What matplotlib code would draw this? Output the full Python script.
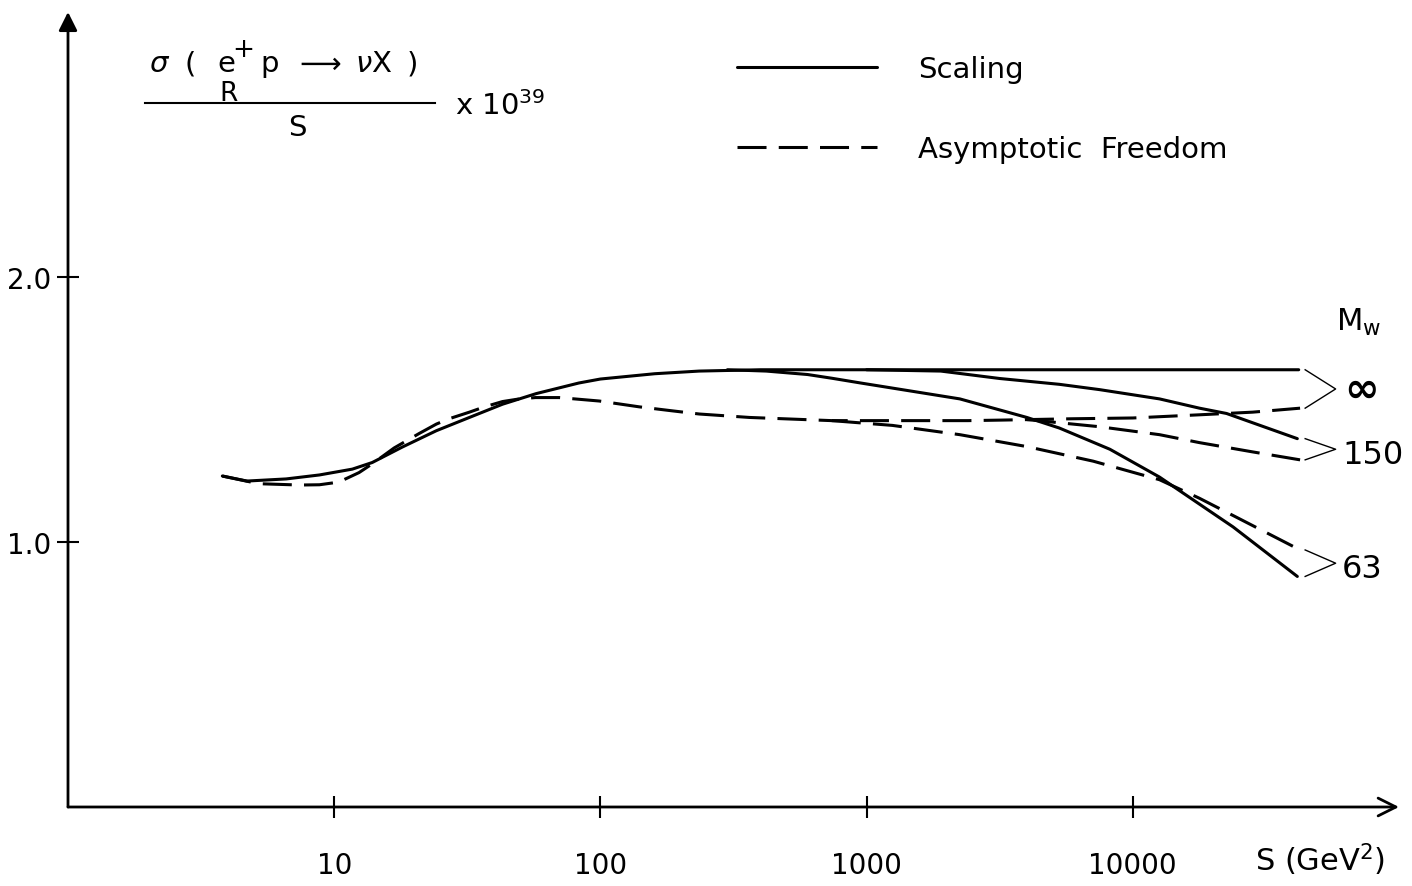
import matplotlib
matplotlib.use("Agg")
import matplotlib.pyplot as plt
from matplotlib.lines import Line2D
from matplotlib.ticker import NullLocator

# --------------------------------------------------------------------------- #
# Values: S in GeV^2, sigma/S in units of 1e-39
# --------------------------------------------------------------------------- #
S_SCAL_INF = [3.8, 4.7, 6.6, 8.8, 11.7, 13.9, 18, 24.2, 32.2, 42.9, 57.4, 83,
              100, 160, 235, 400, 1000, 3200, 10000, 42000]
SCAL_INF   = [1.249, 1.23, 1.238, 1.253, 1.275, 1.30, 1.358, 1.42, 1.47, 1.52,
              1.56, 1.60, 1.615, 1.635, 1.645, 1.65, 1.65, 1.65, 1.65, 1.65]

S_SCAL_150 = [1000, 1900, 3160, 5300, 7500, 12600, 17800, 22500, 41500]
SCAL_150   = [1.65, 1.645, 1.617, 1.595, 1.575, 1.54, 1.505, 1.485, 1.39]

S_SCAL_63 = [300, 420, 600, 740, 950, 2240, 4000, 5300, 8200, 12600, 23800, 41500]
SCAL_63   = [1.65, 1.645, 1.632, 1.618, 1.60, 1.54, 1.47, 1.43, 1.35, 1.245,
             1.057, 0.87]

S_AF_INF = [3.8, 5.2, 7.4, 8.8, 10.4, 12.4, 13.9, 16.8, 20.9, 24.2, 27, 32.2,
            36.7, 42.9, 49.6, 57, 70, 99, 140, 186, 235, 363, 740, 1000, 2400,
            3200, 5900, 10000, 17800, 28200, 42500]
AF_INF   = [1.249, 1.22, 1.215, 1.216, 1.226, 1.262, 1.295, 1.355, 1.41, 1.445,
            1.465, 1.49, 1.51, 1.53, 1.54, 1.545, 1.545, 1.532, 1.51, 1.495,
            1.483, 1.47, 1.458, 1.458, 1.458, 1.46, 1.465, 1.468, 1.48, 1.49,
            1.505]

S_AF_150 = [4000, 5300, 7500, 12600, 17800, 28200, 42500]
AF_150   = [1.462, 1.45, 1.435, 1.405, 1.375, 1.34, 1.31]

S_AF_63 = [740, 1250, 2240, 4000, 7100, 12600, 17800, 23800, 42500]
AF_63   = [1.458, 1.44, 1.405, 1.36, 1.305, 1.235, 1.165, 1.10, 0.97]

MW_LABELS     = ["\u221e", "150", "63"]
X_TICKS       = [10, 100, 1000, 10000]
X_TICK_LABELS = ["10", "100", "1000", "10000"]
Y_TICKS       = [1.0, 2.0]
Y_TICK_LABELS = ["1.0", "2.0"]

# --------------------------------------------------------------------------- #
# Figure
# --------------------------------------------------------------------------- #
W, H = 1412, 887
plt.rcParams["font.family"] = ["DejaVu Sans"]
plt.rcParams["mathtext.fontset"] = "dejavusans"

fig = plt.figure(figsize=(W / 100, H / 100), dpi=100)
ax = fig.add_axes([68 / W, 1 - 808 / H, 1331 / W, 795 / H])
ax.set_xscale("log")
ax.set_xlim(1, 1e5)
ax.set_ylim(0, 3)

def fpos(x, y):
    # pixel position -> figure fraction
    return x / W, 1 - y / H

LW = 2.2
DASH = (9.5, 4)
solid_kw = dict(color="black", lw=LW, solid_capstyle="round", solid_joinstyle="round")
dash_kw  = dict(color="black", lw=LW, dashes=DASH)

h_scal, = ax.plot(S_SCAL_INF, SCAL_INF, **solid_kw)
ax.plot(S_SCAL_150, SCAL_150, **solid_kw)
ax.plot(S_SCAL_63, SCAL_63, **solid_kw)
h_af, = ax.plot(S_AF_INF, AF_INF, **dash_kw)
ax.plot(S_AF_150, AF_150, **dash_kw)
ax.plot(S_AF_63, AF_63, **dash_kw)

# brackets joining the curve ends to the M_W labels
pairs = [
    (S_SCAL_INF[-1], SCAL_INF[-1], S_AF_INF[-1], AF_INF[-1]),
    (S_SCAL_150[-1], SCAL_150[-1], S_AF_150[-1], AF_150[-1]),
    (S_SCAL_63[-1], SCAL_63[-1], S_AF_63[-1], AF_63[-1]),
]
for (xs, ys, xa, ya), lab in zip(pairs, MW_LABELS):
    x_end = max(xs, xa)
    y_mid = (ys + ya) / 2
    ax.plot([x_end * 1.045, x_end * 1.36, x_end * 1.045], [ys, y_mid, ya],
            color="black", lw=1.0, clip_on=False)
    if lab == "\u221e":
        ax.text(x_end * 1.46, y_mid, lab, fontsize=30, fontweight="bold",
                va="center", ha="left")
    else:
        ax.text(x_end * 1.44, y_mid - 0.02, lab, fontsize=23, va="center", ha="left")

fig.text(*fpos(1336, 322), r"M$_{\mathrm{w}}$", fontsize=22, va="center", ha="left")

# axes: arrows instead of spines
for s in ax.spines.values():
    s.set_visible(False)
ax.annotate("", xy=(1.0, 0), xytext=(0, 0), xycoords="axes fraction",
            arrowprops=dict(arrowstyle="->", lw=2.0, mutation_scale=32,
                            shrinkA=0, shrinkB=0))
ax.annotate("", xy=(0, 1.0), xytext=(0, 0), xycoords="axes fraction",
            arrowprops=dict(arrowstyle="-|>", lw=2.0, mutation_scale=28,
                            shrinkA=0, shrinkB=0, fc="black"))

ax.set_xticks(X_TICKS)
ax.set_xticklabels(X_TICK_LABELS)
ax.xaxis.set_minor_locator(NullLocator())
ax.set_yticks(Y_TICKS)
ax.set_yticklabels(Y_TICK_LABELS)
ax.tick_params(direction="inout", length=16, width=1.5, labelsize=20)
ax.tick_params(axis="x", pad=24)
ax.tick_params(axis="y", pad=4)

fig.text(*fpos(1255, 860), r"S (GeV$^{2}$)", fontsize=22, va="center", ha="left")

# legend
ax.legend([h_scal, h_af], ["Scaling", "Asymptotic  Freedom"],
          loc="upper left", bbox_to_anchor=fpos(737, 56),
          bbox_transform=fig.transFigure, frameon=False, fontsize=21,
          handlelength=4.8, handletextpad=1.4, labelspacing=1.8,
          borderpad=0, borderaxespad=0)

# y-axis title: sigma(e+_R p -> nu X) / S  x 10^39
BASE = 72
num_kw = dict(fontsize=21, va="baseline", ha="center")
fig.text(*fpos(160, BASE), r"$\sigma$", **num_kw)
fig.text(*fpos(190, BASE), "(", **num_kw)
fig.text(*fpos(226, BASE), "e", **num_kw)
fig.text(*fpos(243, 50), "+", fontsize=19, va="center", ha="center")
fig.text(*fpos(229, 101), "R", fontsize=19, va="baseline", ha="center")
fig.text(*fpos(270, BASE), "p", **num_kw)
fig.text(*fpos(318, BASE), r"$\longrightarrow$", **num_kw)
fig.text(*fpos(374, BASE), r"$\nu$X", **num_kw)
fig.text(*fpos(412, BASE), ")", **num_kw)
fig.add_artist(Line2D([145 / W, 435 / W], [1 - 104 / H] * 2,
                      transform=fig.transFigure, color="black", lw=1.5))
fig.text(*fpos(297, 128), "S", fontsize=21, va="center", ha="center")
fig.text(*fpos(455, 106), r"x 10$^{39}$", fontsize=21, va="center", ha="left")

fig.savefig("out.png", dpi=100)
